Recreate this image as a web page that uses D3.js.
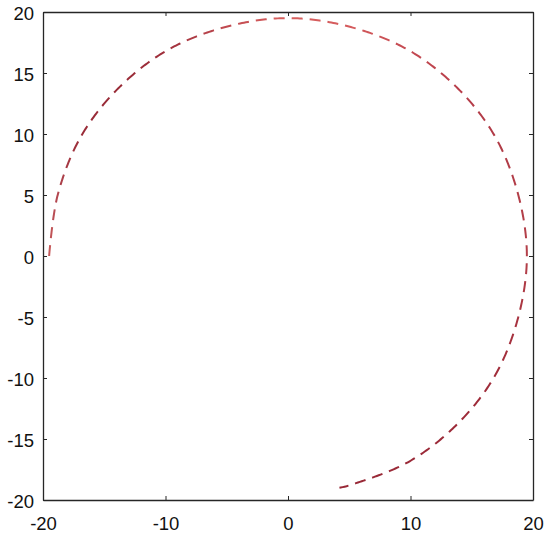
<!DOCTYPE html>
<html>
<head>
<meta charset="utf-8">
<script src="https://cdn.jsdelivr.net/npm/d3@7"></script>
<style>
	body { margin: 0; background: #fff; }
	text { font-family: "Liberation Sans", Arial, Helvetica, sans-serif; }
</style>
</head>
<body>
<svg id="chart" width="550" height="538"></svg>
<script>

var xValues = [-19.5, -18.8, -16.9, -13.8, -9.8, -5.0, 0.0, 5.0, 9.8, 13.8, 16.9, 18.8, 19.5, 18.8, 16.9, 13.8, 9.8, 5.0, 4.2];
var yValues = [0.0, 5.0, 9.8, 13.8, 16.9, 18.8, 19.5, 18.8, 16.9, 13.8, 9.8, 5.0, 0.0, -5.0, -9.8, -13.8, -16.9, -18.8, -19.0];

// colour of the dashes near each point
var pointColors = ['#c85c5c', '#b24650', '#9a2c38', '#982a36', '#a0303c', '#c04a50',
	'#d8605e', '#d45a5c', '#c44a52', '#b83e4a', '#b03a46', '#b23e48', '#b4404a',
	'#a83440', '#a02c3a', '#9c2a38', '#9a2a38', '#982836', '#982836'];

var xTicks = [-20, -10, 0, 10, 20];
var yTicks = [-20, -15, -10, -5, 0, 5, 10, 15, 20];

var config = {
	margin: {top: 12, right: 17, bottom: 38, left: 43},
	dash: 11,
	gap: 7,
	axisColor: '#262626'
};

var svg = d3.select('#chart'),
	width = +svg.attr('width') - config.margin.left - config.margin.right,
	height = +svg.attr('height') - config.margin.top - config.margin.bottom;

var x = d3.scaleLinear().domain([-20, 20]).range([0, width]);
var y = d3.scaleLinear().domain([-20, 20]).range([height, 0]);

var plain = function(d){ return String(d); };

var g = svg.append('g')
	.attr('transform', 'translate(' + config.margin.left + ',' + config.margin.top + ')');

// axes, ticks pointing inwards, box on all sides
function styleAxis(sel)
{
	sel.selectAll('path').attr('stroke', config.axisColor).attr('stroke-width', 1.3);
	sel.selectAll('line').attr('stroke', config.axisColor).attr('stroke-width', 1);
	sel.selectAll('text').attr('fill', '#111').attr('font-size', 18.5);
}

g.append('g')
	.attr('transform', 'translate(0,' + height + ')')
	.call(d3.axisBottom(x).tickValues(xTicks).tickFormat(plain).tickSizeInner(-4).tickSizeOuter(0).tickPadding(17))
	.call(styleAxis);

g.append('g')
	.call(d3.axisTop(x).tickValues(xTicks).tickSizeInner(-4).tickSizeOuter(0).tickFormat(''))
	.call(styleAxis);

var yAxis = g.append('g')
	.call(d3.axisLeft(y).tickValues(yTicks).tickFormat(plain).tickSizeInner(-4).tickSizeOuter(0).tickPadding(9))
	.call(styleAxis);

yAxis.selectAll('text').attr('dy', '0.42em');

g.append('g')
	.attr('transform', 'translate(' + width + ',0)')
	.call(d3.axisRight(y).tickValues(yTicks).tickSizeInner(-4).tickSizeOuter(0).tickFormat(''))
	.call(styleAxis);

// the arc
var points = xValues.map(function(v, i){ return [x(v), y(yValues[i])]; });

var line = d3.line().curve(d3.curveCatmullRom.alpha(0.5));

var guide = g.append('path')
	.attr('d', line(points))
	.attr('fill', 'none')
	.attr('stroke', 'none');

var node = guide.node(),
	total = node.getTotalLength();

// colour along the path, keyed by the length at each point
var cum = [0];
for (var i = 1; i < points.length; i++)
	cum.push(cum[i - 1] + Math.hypot(points[i][0] - points[i - 1][0], points[i][1] - points[i - 1][1]));

var color = d3.scaleLinear()
	.domain(cum.map(function(c){ return c / cum[cum.length - 1]; }))
	.range(pointColors)
	.interpolate(d3.interpolateRgb)
	.clamp(true);

var dashes = [];
for (var s = 0; s < total; s += config.dash + config.gap)
{
	var e = Math.min(s + config.dash, total), pts = [];
	for (var t = s; t < e; t += 2)
	{
		var p = node.getPointAtLength(t);
		pts.push([p.x, p.y]);
	}
	var q = node.getPointAtLength(e);
	pts.push([q.x, q.y]);
	dashes.push({pts: pts, f: (s + e) / 2 / total});
}

g.selectAll('path.dash').data(dashes)
	.enter()
	.append('path')
	.attr('class', 'dash')
	.attr('d', function(d){ return d3.line()(d.pts); })
	.attr('fill', 'none')
	.attr('stroke', function(d){ return color(d.f); })
	.attr('stroke-width', 2);

</script>
</body>
</html>
